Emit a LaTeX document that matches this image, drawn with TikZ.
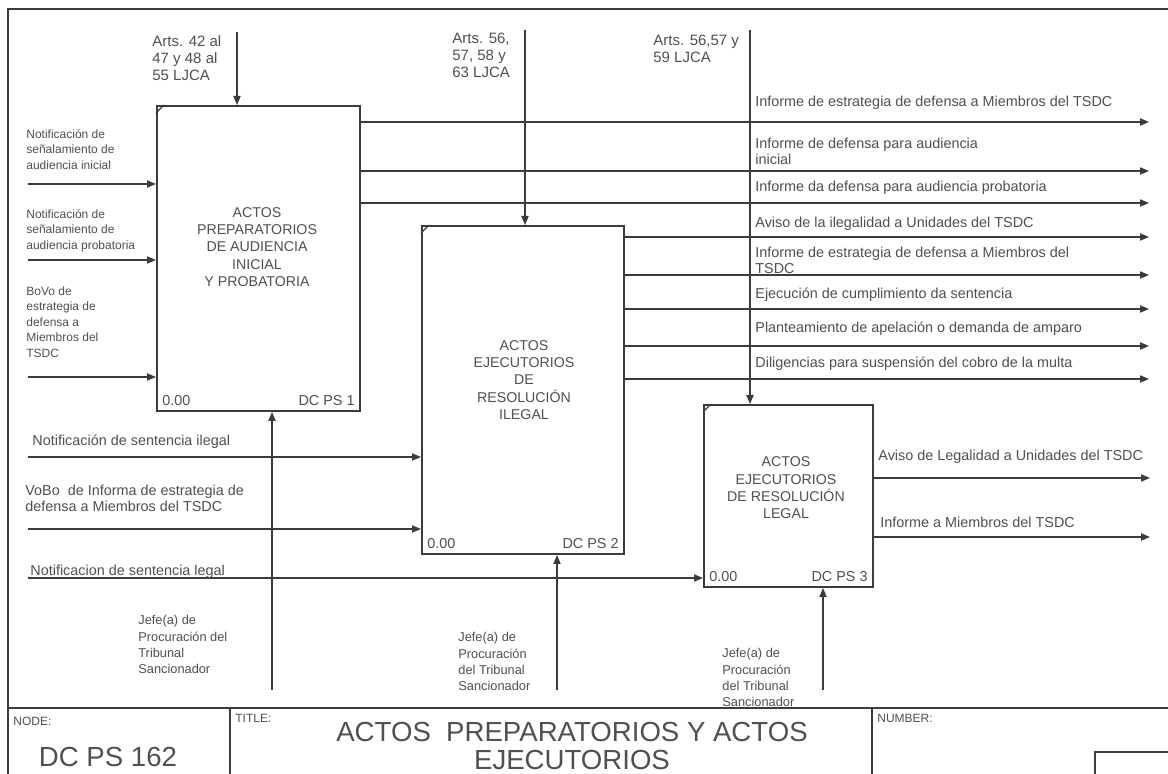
\documentclass[tikz,border=0pt]{standalone}
\usepackage{fontspec}
\setmainfont{Liberation Sans}
\usetikzlibrary{arrows.meta,calc}
\definecolor{ink}{RGB}{60,60,60}
\definecolor{txt}{RGB}{80,80,80}
\newcommand{\lbfont}{\fontsize{7.2}{7.7}\selectfont}
\newcommand{\ctfont}{\fontsize{7.5}{8.5}\selectfont}
\newcommand{\mcfont}{\fontsize{6.4}{8.2}\selectfont}
\newcommand{\smfont}{\fontsize{6}{7.75}\selectfont}
\newcommand{\bxfont}{\fontsize{7.1}{8.7}\selectfont}
\newcommand{\hdfont}{\fontsize{6}{7}\selectfont}
\newcommand{\bgfont}{\fontsize{13.8}{13.5}\selectfont}

\begin{document}
\begin{tikzpicture}[x=0.5pt,y=-0.5pt,
  box/.style={draw=ink,line width=1pt,inner sep=0pt},
  boxtxt/.style={font=\bxfont,text=txt,align=center},
  flow/.style={-{Triangle[length=4.5pt,width=3.6pt]},draw=ink,line width=0.6pt},
  frame/.style={draw=ink,line width=0.7pt},
  lbl/.style={font=\lbfont,text=txt,inner sep=0pt,anchor=north west,align=left},
  ctl/.style={lbl,font=\ctfont},
  mch/.style={lbl,font=\mcfont},
  sml/.style={lbl,font=\smfont},
  corner/.style={font=\lbfont,text=txt,inner sep=3pt}]
  \path[use as bounding box,fill=white] (0,0) rectangle (1168,774);

  \draw[frame] (8,774) -- (8,9) -- (1168,9);
  \draw[frame] (8,708) -- (1168,708);
  \draw[frame] (230,708) -- (230,774);
  \draw[frame] (872,708) -- (872,774);
  \draw[frame] (1095,774) -- (1095,752) -- (1168,752);

  \node[box,minimum width=101.5pt,minimum height=152.5pt] (b1) at (258.5,258.5) {};
  \node[box,minimum width=101pt,minimum height=164pt] (b2) at (523,390) {};
  \node[box,minimum width=84.5pt,minimum height=91pt] (b3) at (788.5,496) {};
  \foreach \b in {b1,b2,b3}
    \draw[ink,line width=0.6pt] ($(\b.north west)+(0,8)$) -- ($(\b.north west)+(8,0)$);

  \node[boxtxt] (t1) at (257,247) {ACTOS\\PREPARATORIOS\\DE AUDIENCIA\\INICIAL\\Y PROBATORIA};
  \node[boxtxt] (t2) at (524,380) {ACTOS\\EJECUTORIOS\\DE\\RESOLUCIÓN\\ILEGAL};
  \node[boxtxt] (t3) at (786,488) {ACTOS\\EJECUTORIOS\\DE RESOLUCIÓN\\LEGAL};
  \node[corner,anchor=south west] (b1n) at (b1.south west) {0.00};
  \node[corner,anchor=south east] (b1d) at (b1.south east) {DC PS 1};
  \node[corner,anchor=south west] (b2n) at (b2.south west) {0.00};
  \node[corner,anchor=south east] (b2d) at (b2.south east) {DC PS 2};
  \node[corner,anchor=south west] (b3n) at (b3.south west) {0.00};
  \node[corner,anchor=south east] (b3d) at (b3.south east) {DC PS 3};

  \coordinate (c1) at (237,32);
  \coordinate (c2) at (525,30);
  \coordinate (c3) at (750,30);
  \draw[flow] (c1) -- (c1 |- b1.north);
  \draw[flow] (c2) -- (c2 |- b2.north);
  \draw[flow] (c3) -- (c3 |- b3.north);
  \node[ctl] (a1) at (152,35) {Arts. 42 al\\47 y 48 al\\55 LJCA};
  \node[ctl] (a2) at (452,33) {Arts. 56,\\57, 58 y\\63 LJCA};
  \node[ctl] (a3) at (653,35) {Arts. 56,57 y\\59 LJCA};

  \coordinate (m1) at (272,690);
  \coordinate (m2) at (557,690);
  \coordinate (m3) at (823,690);
  \draw[flow] (m1) -- (m1 |- b1.south);
  \draw[flow] (m2) -- (m2 |- b2.south);
  \draw[flow] (m3) -- (m3 |- b3.south);
  \node[mch] (j1) at (138,615) {Jefe(a) de\\Procuración del\\Tribunal\\Sancionador};
  \node[mch] (j2) at (458,632) {Jefe(a) de\\Procuración\\del Tribunal\\Sancionador};
  \node[mch] (j3) at (722,648) {Jefe(a) de\\Procuración\\del Tribunal\\Sancionador};

  \foreach \y [count=\i] in {184,260,377} {
    \coordinate (i\i) at (28,\y);
    \draw[flow] (i\i) -- (i\i -| b1.west);}
  \coordinate (i4) at (28,457);
  \coordinate (i5) at (28,529);
  \coordinate (i6) at (28,578);
  \draw[flow] (i4) -- (i4 -| b2.west);
  \draw[flow] (i5) -- (i5 -| b2.west);
  \draw[flow] (i6) -- (i6 -| b3.west);
  \node[sml] (l1) at (26,129) {Notificación de\\señalamiento de\\audiencia inicial};
  \node[sml] (l2) at (26,209) {Notificación de\\señalamiento de\\audiencia probatoria};
  \node[sml] (l3) at (26,286) {BoVo de\\estrategia de\\defensa a\\Miembros del\\TSDC};
  \node[lbl] (l4) at (32,435) {Notificación de sentencia ilegal};
  \node[lbl] (l5) at (25,485) {VoBo\ \ de Informa de estrategia de\\defensa a Miembros del TSDC};
  \node[lbl] (l6) at (30,565) {Notificacion de sentencia legal};

  \foreach \y [count=\i] in {122,171,203} {
    \coordinate (o\i) at (1149,\y);
    \draw[flow] (b1.east |- o\i) -- (o\i);}
  \foreach \y [count=\i from 4] in {237,275,309,346,379} {
    \coordinate (o\i) at (1149,\y);
    \draw[flow] (b2.east |- o\i) -- (o\i);}
  \coordinate (o9) at (1150,478);
  \coordinate (o10) at (1150,537);
  \draw[flow] (b3.east |- o9) -- (o9);
  \draw[flow] (b3.east |- o10) -- (o10);
  \node[lbl] (r1) at (755,96) {Informe de estrategia de defensa a Miembros del TSDC};
  \node[lbl] (r2) at (755,138) {Informe de defensa para audiencia\\inicial};
  \node[lbl] (r3) at (755,181) {Informe da defensa para audiencia probatoria};
  \node[lbl] (r4) at (755,217) {Aviso de la ilegalidad a Unidades del TSDC};
  \node[lbl] (r5) at (755,247) {Informe de estrategia de defensa a Miembros del\\TSDC};
  \node[lbl] (r6) at (755,288) {Ejecución de cumplimiento da sentencia};
  \node[lbl] (r7) at (755,322) {Planteamiento de apelación o demanda de amparo};
  \node[lbl] (r8) at (755,357) {Diligencias para suspensión del cobro de la multa};
  \node[lbl] (q1) at (878,450) {Aviso de Legalidad a Unidades del TSDC};
  \node[lbl] (q2) at (880,517) {Informe a Miembros del TSDC};

  \node[lbl,font=\hdfont] (nodehd) at (13,717) {NODE:};
  \node[font=\bgfont,text=txt] (nodeid) at (108,757) {DC PS 162};
  \node[lbl,font=\hdfont] (titlehd) at (235,714) {TITLE:};
  \node[font=\bgfont,text=txt,align=center] (ttl) at (572,746) {ACTOS\ \ PREPARATORIOS Y ACTOS\\EJECUTORIOS};
  \node[lbl,font=\hdfont] (numhd) at (877,714) {NUMBER:};
\end{tikzpicture}
\end{document}
